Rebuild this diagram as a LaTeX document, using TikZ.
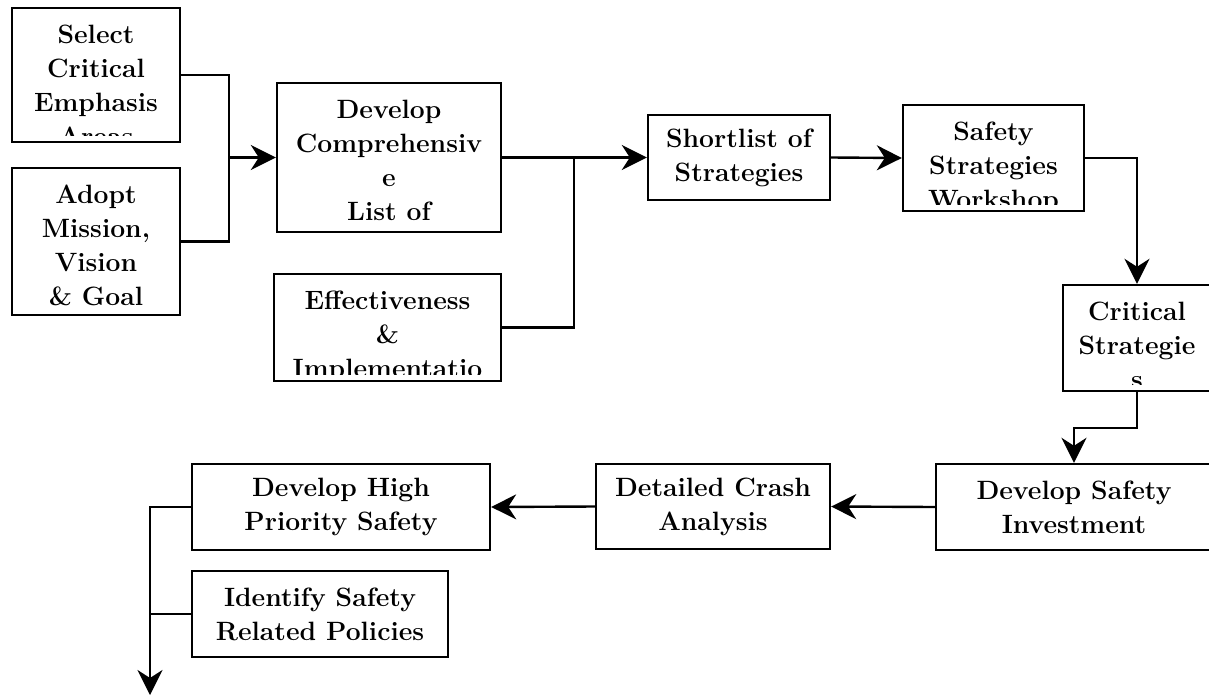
\documentclass[tikz,border=0pt]{standalone}
\usetikzlibrary{arrows.meta}
\tikzset{>={Stealth[length=25pt,width=25pt,inset=8pt]}}
\tikzset{
  box/.style={draw, line width=2.4pt, inner sep=0pt},
  txt/.style={font=\bfseries\fontsize{26.5}{34}\selectfont, align=center, inner sep=0pt}
}
% text set from the top of a box, cut off at its lower margin
\newcommand{\boxtext}[2]{
  \begin{scope}
    \clip ([yshift=8pt]#1.south west) rectangle (#1.north east);
    \node[txt, anchor=north] (#1-text) at ([yshift=-17pt]#1.north) {#2};
  \end{scope}}

\begin{document}
\begin{tikzpicture}[x=1pt, y=-1pt, line width=2.4pt, line join=miter]
    \clip (0,0) rectangle (1209,696);
    % first column
    \node[box, minimum width=168pt, minimum height=134pt] (sel) at (96,75) {};
    \boxtext{sel}{Select\\Critical\\Emphasis\\Areas}
    \node[box, minimum width=168pt, minimum height=147pt] (adopt) at (96,241.5) {};
    \boxtext{adopt}{Adopt\\Mission,\\Vision\\\& Goal}
    % list of strategies
    \node[box, minimum width=224pt, minimum height=149pt] (devlist) at (389,157.5) {};
    \boxtext{devlist}{Develop\\Comprehensiv\\e\\List of}
    \node[box, minimum width=227pt, minimum height=107pt] (effect) at (387.5,327.5) {};
    \boxtext{effect}{Effectiveness\\\&\\Implementatio}
    \node[box, txt, minimum width=182pt, minimum height=85pt] (short) at (739,157.5) {Shortlist of\\Strategies};
    \node[box, minimum width=181pt, minimum height=106pt] (workshop) at (993.5,158) {};
    \boxtext{workshop}{Safety\\Strategies\\Workshop}
    \node[box, minimum width=148pt, minimum height=106pt] (critical) at (1137,338) {};
    \boxtext{critical}{Critical\\Strategie\\s}
    % bottom row
    \node[box, txt, minimum width=276pt, minimum height=86pt] (invest) at (1074,507) {Develop Safety\\Investment};
    \node[box, txt, minimum width=234pt, minimum height=85pt] (crash) at (713,506.5) {Detailed Crash\\Analysis};
    \node[box, txt, minimum width=298pt, minimum height=86pt] (highpri) at (341,507) {Develop High\\Priority Safety};
    \node[box, txt, minimum width=256pt, minimum height=86pt] (policy) at (320,614) {Identify Safety\\Related Policies};

    \coordinate (j1) at (229,157.5);
    \coordinate (j2) at (574,157.5);
    \coordinate (out) at (150,695);

    \draw (sel.east) -| (j1);
    \draw (adopt.east) -| (j1);
    \draw[->] (j1) -- (devlist.west);
    \draw (effect.east) -| (j2);
    \draw[->] (devlist.east) -- (short.west);
    \draw[->] (short.east) -- (workshop.west);
    \draw[->] (workshop.east) -| (critical.north);
    \draw[->] (critical.south) -- ++(0,36) -| (invest.north);
    \draw[->] (invest.west) -- (crash.east);
    \draw[->] (crash.west) -- (highpri.east);
    \draw[->] (highpri.west) -| (out);
    \draw (policy.west) -- (policy.west -| out);
\end{tikzpicture}
\end{document}
